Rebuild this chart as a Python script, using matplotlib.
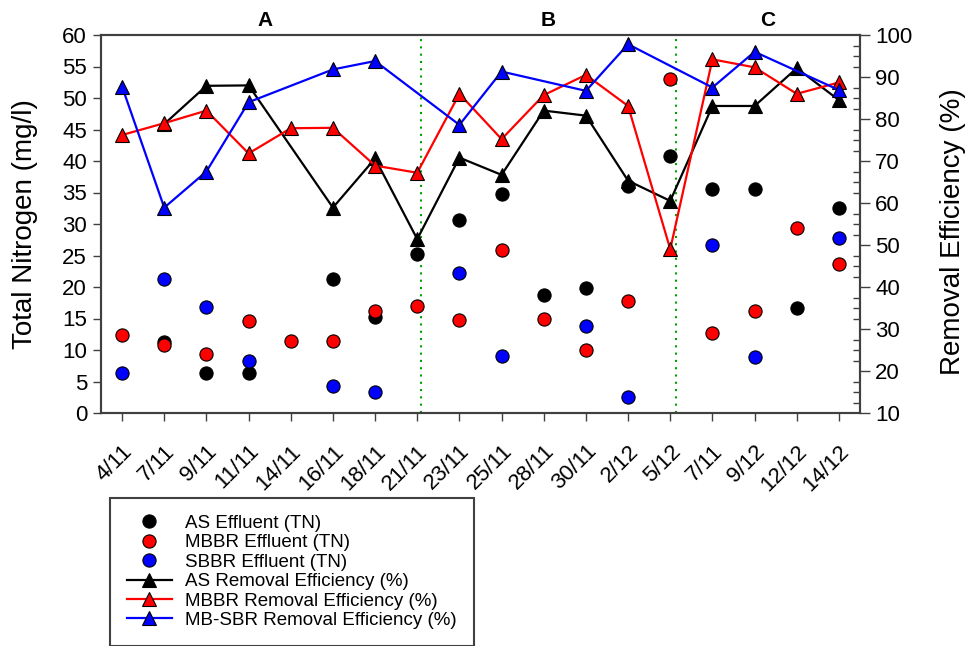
import numpy as np
import matplotlib.pyplot as plt
from matplotlib.ticker import MultipleLocator

plt.rcParams['font.family'] = ['Liberation Sans', 'DejaVu Sans']

# sampling dates (as labelled on the axis)
dates = ['4/11', '7/11', '9/11', '11/11', '14/11', '16/11', '18/11', '21/11',
         '23/11', '25/11', '28/11', '30/11', '2/12', '5/12', '7/11', '9/12',
         '12/12', '14/12']

nan = np.nan
# effluent total nitrogen, mg/l
as_tn = [nan, 11.2, 6.3, 6.3, nan, 21.3, 15.3, 25.2, 30.6, 34.7, 18.8, 19.8,
         36.0, 40.8, 35.5, 35.5, 16.6, 32.6]
mbbr_tn = [12.4, 10.8, 9.4, 14.6, 11.5, 11.4, 16.2, 17.0, 14.8, 25.9, 15.0,
           10.0, 17.7, 53.0, 12.7, 16.2, 29.4, 23.7]
sbbr_tn = [6.4, 21.2, 16.9, 8.25, nan, 4.3, 3.3, nan, 22.3, 9.1, nan, 13.8,
           2.5, nan, 26.6, 8.9, nan, 27.7]

# TN removal efficiency, %
as_eff = [nan, 78.8, 87.9, 88.0, nan, 58.9, 70.6, 51.4, 70.8, 66.7, 82.0,
          80.8, 65.3, 60.5, 83.1, 83.1, 92.1, 84.5]
mbbr_eff = [76.2, 79.0, 82.0, 71.8, 77.8, 77.9, 68.9, 67.2, 86.0, 75.2, 85.7,
            90.5, 83.1, 49.0, 94.2, 92.3, 86.0, 88.7]
mbsbr_eff = [87.7, 58.9, 67.5, 84.0, nan, 91.8, 93.8, nan, 78.6, 91.3, nan,
             86.7, 97.8, nan, 87.5, 96.0, nan, 86.9]

phase_names = ['A', 'B', 'C']
phase_label_x = [3.4, 10.1, 15.3]
phase_breaks = [7.08, 13.13]

spine_col = '#404040'
ms = 9.5

fig = plt.figure(figsize=(9.7, 6.46), dpi=100)
ax = fig.add_axes([101/970, 1-413/646, 759/970, 378/646])
ax2 = ax.twinx()

x = np.arange(len(dates))


def valid(vals):
    # drop missing samples so the lines join the neighbouring points
    v = np.asarray(vals, dtype=float)
    m = ~np.isnan(v)
    return x[m], v[m]


for vals, col, lab in [(as_tn, 'black', 'AS Effluent (TN)'),
                       (mbbr_tn, 'red', 'MBBR Effluent (TN)'),
                       (sbbr_tn, 'blue', 'SBBR Effluent (TN)')]:
    xx, yy = valid(vals)
    ax.plot(xx, yy, ls='none', marker='o', ms=ms, mfc=col, mec='black',
            mew=0.8, label=lab)

for vals, col, lab in [(as_eff, 'black', 'AS Removal Efficiency (%)'),
                       (mbbr_eff, 'red', 'MBBR Removal Efficiency (%)'),
                       (mbsbr_eff, 'blue', 'MB-SBR Removal Efficiency (%)')]:
    xx, yy = valid(vals)
    ax2.plot(xx, yy, color=col, lw=1.6, marker='^', ms=ms, mfc=col,
             mec='black', mew=0.8, label=lab)

for b in phase_breaks:
    ax.axvline(b, color='#00a000', ls=(0, (1, 2.5)), lw=1.5, zorder=0)

ax.set_xlim(-0.5, 17.5)
ax.set_ylim(0, 60)
ax2.set_ylim(10, 100)

ax.set_xticks(x)
ax.set_xticklabels(dates, rotation=45, ha='right', rotation_mode='anchor')
ax.yaxis.set_major_locator(MultipleLocator(5))
ax2.yaxis.set_major_locator(MultipleLocator(10))
ax2.yaxis.set_minor_locator(MultipleLocator(2.5))

ax.tick_params(axis='both', direction='out', length=6, width=1,
               color=spine_col, labelsize=16)
ax.tick_params(axis='x', pad=14)
ax.tick_params(axis='y', pad=4)
ax2.tick_params(axis='y', which='major', direction='out', length=7, width=1,
                color=spine_col, labelsize=16, pad=4)
ax2.tick_params(axis='y', which='minor', direction='in', length=5, width=1,
                color=spine_col)

for a in (ax, ax2):
    for s in a.spines.values():
        s.set_color(spine_col)
        s.set_linewidth(1.5)

ax.set_ylabel('Total Nitrogen (mg/l)', fontsize=20)
ax2.set_ylabel('Removal Efficiency (%)', fontsize=20)
ax.yaxis.set_label_coords(-0.083, 0.5)
ax2.yaxis.set_label_coords(1.106, 0.48)

for name, px in zip(phase_names, phase_label_x):
    ax.annotate(name, xy=(px, 1), xycoords=('data', 'axes fraction'),
                xytext=(0, 6.5), textcoords='offset points', ha='center',
                va='baseline', fontsize=15, fontweight='bold')

h1, l1 = ax.get_legend_handles_labels()
h2, l2 = ax2.get_legend_handles_labels()
leg = fig.legend(h1 + h2, l1 + l2, loc='upper left',
                 bbox_to_anchor=(110/970, 1-498/646),
                 bbox_transform=fig.transFigure, borderaxespad=0,
                 fontsize=13.5, labelspacing=0.12, handlelength=2.4,
                 handletextpad=0.7, borderpad=0.9, fancybox=False,
                 framealpha=1, edgecolor=spine_col)
leg.get_frame().set_linewidth(1.5)

fig.savefig('out.png', dpi=100)
